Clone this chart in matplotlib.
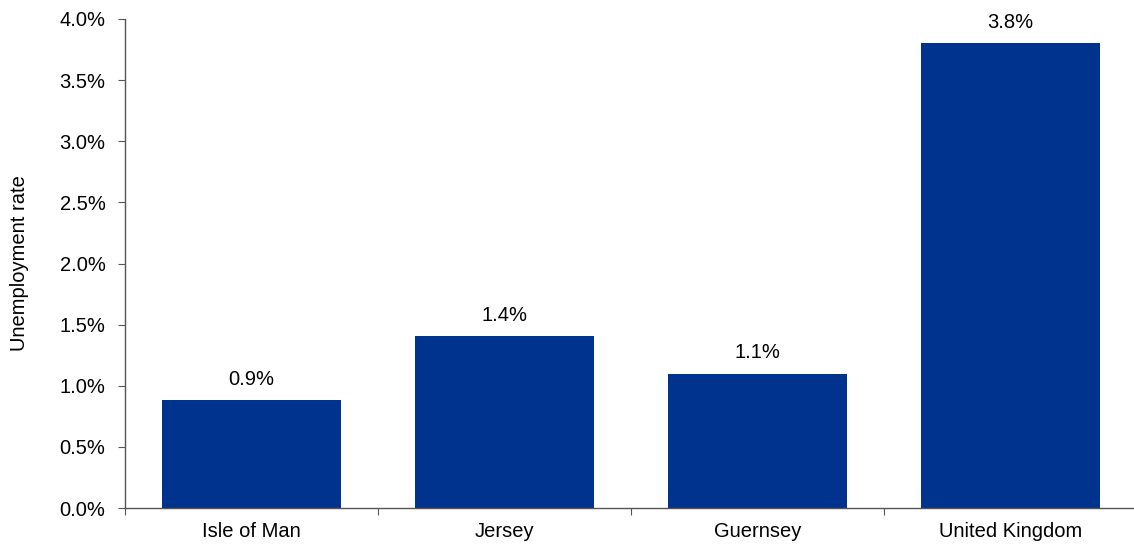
import matplotlib
matplotlib.use("Agg")
import matplotlib.pyplot as plt
from matplotlib.ticker import FuncFormatter

plt.rcParams['font.family'] = ['Liberation Sans', 'DejaVu Sans']

# unemployment rate by jurisdiction, percent
regions = ["Isle of Man", "Jersey", "Guernsey", "United Kingdom"]
rates = [0.88, 1.41, 1.10, 3.80]

barColor = "#00338D"
fs = 14.5

fig = plt.figure(figsize=(11.34, 5.45), dpi=100)
ax = fig.add_axes([125 / 1134, 37 / 545, 1012 / 1134, 489 / 545])

xs = list(range(len(regions)))
ax.bar(xs, rates, width=0.71, color=barColor)

for x, r in zip(xs, rates):
    ax.annotate("%.1f%%" % r, (x, r), xytext=(0, 8), textcoords="offset points",
                ha="center", va="bottom", fontsize=fs)

ax.set_xlim(-0.5, len(regions) - 0.5)
ax.set_ylim(0, 4.0)
ax.set_yticks([i * 0.5 for i in range(9)])
ax.yaxis.set_major_formatter(FuncFormatter(lambda v, p: "%.1f%%" % v))

# category labels centred, ticks on the boundaries
ax.set_xticks([x - 0.5 for x in range(len(regions) + 1)])
ax.set_xticklabels([])
ax.set_xticks(xs, minor=True)
ax.set_xticklabels(regions, minor=True, fontsize=fs)
ax.tick_params(axis="x", which="minor", length=0, pad=10)
ax.tick_params(axis="x", which="major", length=5, color="#555555")
ax.tick_params(axis="y", length=5, color="#555555", labelsize=fs, pad=9)

ax.set_ylabel("Unemployment rate", fontsize=fs, labelpad=22)

for s in ["top", "right"]:
    ax.spines[s].set_visible(False)
for s in ["left", "bottom"]:
    ax.spines[s].set_color("#555555")
    ax.spines[s].set_linewidth(1.0)

fig.savefig("out.png", dpi=100)
